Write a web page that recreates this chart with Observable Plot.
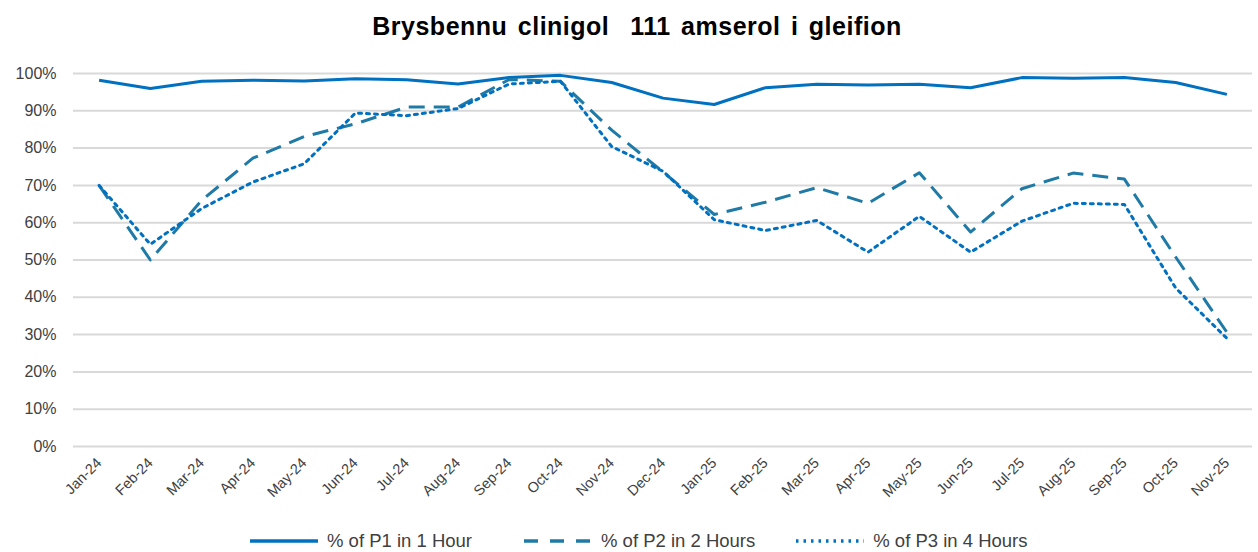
<!DOCTYPE html>
<html>
<head>
<meta charset="utf-8">
<script src="https://cdn.jsdelivr.net/npm/d3@7"></script>
<script src="https://cdn.jsdelivr.net/npm/@observablehq/plot@0.6"></script>
<style>
  html, body { margin: 0; padding: 0; background: #fff; width: 1258px; height: 552px; overflow: hidden; font-family: "Liberation Sans", Arial, sans-serif; }
  #title { height: 50px; line-height: 52px; text-align: center; font-weight: bold; font-size: 25px; word-spacing: 3px; letter-spacing: 0.5px; color: #000; white-space: pre; padding-left: 16px; box-sizing: border-box; }
  #legend { display: flex; justify-content: flex-start; align-items: center; font-size: 18.5px; color: #404040; margin-top: 10px; padding-left: 250px; }
  .item { display: flex; align-items: center; white-space: nowrap; }
  .item svg { margin-right: 9px; }
</style>
</head>
<body>
<div id="title">Brysbennu clinigol  111 amserol i gleifion</div>
<div id="chart"></div>
<div id="legend"></div>
<script>
const months = ["Jan-24","Feb-24","Mar-24","Apr-24","May-24","Jun-24","Jul-24","Aug-24","Sep-24","Oct-24","Nov-24","Dec-24","Jan-25","Feb-25","Mar-25","Apr-25","May-25","Jun-25","Jul-25","Aug-25","Sep-25","Oct-25","Nov-25"];
const p1 = [98.2,96.0,97.9,98.2,98.0,98.6,98.3,97.2,98.9,99.5,97.6,93.4,91.7,96.2,97.1,96.9,97.1,96.2,98.9,98.7,98.9,97.6,94.4];
const p2 = [70.0,50.0,66.0,77.3,83.1,86.5,91.0,91.0,98.4,97.9,84.8,73.6,62.2,65.5,69.4,65.2,73.4,57.5,69.1,73.3,71.7,50.8,30.6];
const p3 = [70.0,54.2,63.8,70.9,75.8,89.4,88.7,90.6,97.2,97.9,80.4,73.8,60.8,57.9,60.6,52.1,61.7,52.1,60.4,65.2,64.9,42.5,29.0];
const seriesNames = ["% of P1 in 1 Hour","% of P2 in 2 Hours","% of P3 in 4 Hours"];
const seriesValues = [p1, p2, p3];
const yTicks = [0,0.1,0.2,0.3,0.4,0.5,0.6,0.7,0.8,0.9,1.0];

const styles = [
  {stroke: "#0070c0", dash: null, legendDash: null},
  {stroke: "#1f7aa6", dash: "16,9", legendDash: "14,12"},
  {stroke: "#0070c0", dash: "3,5", legendDash: "2.5,5"}
];
const legendGaps = [52, 41, 0];

const rows = [];
seriesNames.forEach((s, i) => months.forEach((m, j) => rows.push({series: s, month: m, value: seriesValues[i][j] / 100})));

const lineMarks = seriesNames.map((s, i) => Plot.line(rows.filter(r => r.series === s), {
  x: "month", y: "value", stroke: styles[i].stroke, strokeWidth: 3,
  strokeDasharray: styles[i].dash, strokeLinecap: i === 2 ? "round" : "butt", strokeLinejoin: "round"
}));

const chart = Plot.plot({
  width: 1258,
  height: 470,
  marginLeft: 73,
  marginRight: 6,
  marginTop: 23,
  marginBottom: 74,
  style: {fontFamily: "Liberation Sans, Arial, sans-serif", fontSize: "14px", color: "#404040", background: "#fff"},
  x: {type: "point", domain: months, padding: 0, round: false, insetLeft: 25.6, insetRight: 25.6, label: null},
  y: {domain: [0, 1], label: null},
  marks: [
    Plot.ruleY(yTicks, {stroke: "#d9d9d9", strokeWidth: 2}),
    Plot.axisY({ticks: yTicks, tickFormat: d3.format(".0%"), tickSize: 0, tickPadding: 17, fontSize: 16, fill: "#404040", label: null}),
    Plot.axisX({tickSize: 0, tickRotate: -45, tickPadding: 14, fontSize: 14.5, fill: "#404040", label: null}),
    ...lineMarks
  ]
});
document.getElementById("chart").appendChild(chart);

const legend = document.getElementById("legend");
seriesNames.forEach((s, i) => {
  const item = document.createElement("div");
  item.className = "item";
  item.style.marginRight = legendGaps[i] + "px";
  const svg = d3.create("svg").attr("width", 68).attr("height", 12);
  svg.append("line").attr("x1", 0).attr("x2", 68).attr("y1", 6).attr("y2", 6)
    .attr("stroke", styles[i].stroke).attr("stroke-width", 3.5)
    .attr("stroke-dasharray", styles[i].legendDash);
  item.appendChild(svg.node());
  const t = document.createElement("span");
  t.textContent = s;
  item.appendChild(t);
  legend.appendChild(item);
});
</script>
</body>
</html>
